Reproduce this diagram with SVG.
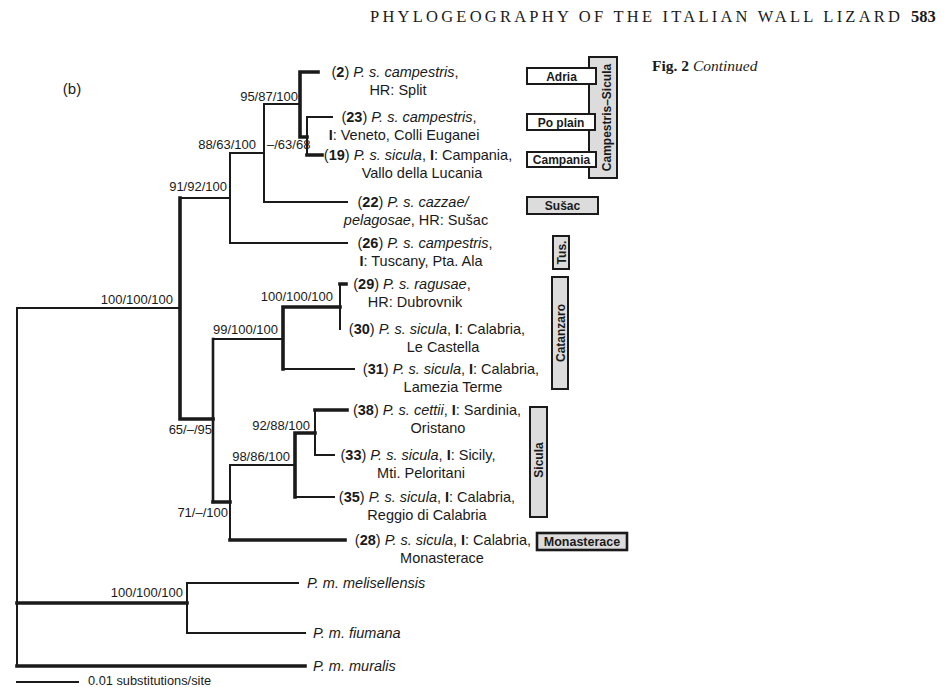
<svg xmlns="http://www.w3.org/2000/svg" width="948" height="687" viewBox="0 0 948 687">
<style>
.bg{fill:#ffffff}
.br{fill:none;stroke:#1a1a1a;stroke-linecap:square;stroke-linejoin:miter}
.th{stroke-width:2}
.tk{stroke-width:3.6}
.leaf{font-family:"Liberation Sans",Arial,sans-serif;font-size:14.5px;fill:#1a1a1a;text-anchor:middle}
.out{font-family:"Liberation Sans",Arial,sans-serif;font-size:14.5px;fill:#1a1a1a;font-style:italic}
.sup{font-family:"Liberation Sans",Arial,sans-serif;font-size:13px;fill:#1a1a1a}
.r{text-anchor:end}
.b{font-weight:bold}
.i{font-style:italic}
.box{stroke:#1a1a1a;stroke-width:2}
.gray{fill:#dcdcdc}
.white{fill:#ffffff}
.bt{font-family:"Liberation Sans",Arial,sans-serif;font-size:12px;font-weight:bold;fill:#1a1a1a;text-anchor:middle}
.hdr{font-family:"Liberation Serif","Times New Roman",serif;font-size:16.5px;fill:#1a1a1a}
.cap{font-family:"Liberation Serif","Times New Roman",serif;font-size:15.5px;fill:#1a1a1a}
</style>
<rect class="bg" x="0" y="0" width="948" height="687"/>

<g id="header">
<text class="hdr" x="370" y="22" textLength="530" lengthAdjust="spacing">PHYLOGEOGRAPHY OF THE ITALIAN WALL LIZARD</text>
<text class="hdr b" x="911" y="22">583</text>
<text class="cap" x="652" y="71"><tspan class="b">Fig. 2</tspan> <tspan class="i">Continued</tspan></text>
<text class="leaf" x="72" y="94" style="font-size:15px">(b)</text>
</g>

<g id="connectors">
<path class="br th" d="M17 308 V666 M17 308 H180"/>
<path class="br th" d="M180 198 H230 M230 153 V243 M230 153 H264 M230 243 H347"/>
<path class="br th" d="M264 104 V202 M264 104 H300 M264 202 H347"/>
<path class="br th" d="M307 117 V155 M307 117 H332"/>
<path class="br th" d="M213 339 H283 M340 284 V329 M283 369 H354"/>
<path class="br" style="stroke-width:2.6" d="M213 339 V502"/>
<path class="br th" d="M230 465 V540 M230 465 H295 M295 497 H334 M315 410 V455 M315 455 H334"/>
<path class="br th" d="M187 583 V633 M187 583 H298 M187 633 H305"/>
<path class="br th" d="M17 682 H78"/>
<path class="br tk" d="M180 198 V419 H213"/>
<path class="br tk" d="M318 72 H300 V137 H307 M307 155 H322"/>
<path class="br tk" d="M340 307 H283 V369 M340 284 H346"/>
<path class="br tk" d="M213 502 H230 M230 540 H345"/>
<path class="br tk" d="M315 433 H295 V497 M315 410 H347"/>
<path class="br tk" d="M17 603 H187 M17 666 H305"/>
</g>

<g id="support">
<text class="sup r" x="298" y="101">95/87/100</text>
<text class="sup r" x="256" y="149">88/63/100</text>
<text class="sup" x="267" y="149">–/63/68</text>
<text class="sup r" x="227" y="191">91/92/100</text>
<text class="sup r" x="173" y="304">100/100/100</text>
<text class="sup r" x="333" y="301">100/100/100</text>
<text class="sup r" x="278" y="334">99/100/100</text>
<text class="sup r" x="310" y="430">92/88/100</text>
<text class="sup r" x="212" y="434">65/–/95</text>
<text class="sup r" x="290" y="461">98/86/100</text>
<text class="sup r" x="228" y="517">71/–/100</text>
<text class="sup r" x="183" y="597">100/100/100</text>
<text class="sup" x="88" y="685" style="font-size:12.8px">0.01 substitutions/site</text>
</g>

<g id="leaf-2">
<text class="leaf" x="395" y="77">(<tspan class="b">2</tspan>) <tspan class="i">P. s. campestris</tspan>,</text>
<text class="leaf" x="398" y="95">HR: Split</text>
</g>
<g id="leaf-23">
<text class="leaf" x="409" y="122">(<tspan class="b">23</tspan>) <tspan class="i">P. s. campestris</tspan>,</text>
<text class="leaf" x="404" y="140"><tspan class="b">I</tspan>: Veneto, Colli Euganei</text>
</g>
<g id="leaf-19">
<text class="leaf" x="418" y="160">(<tspan class="b">19</tspan>) <tspan class="i">P. s. sicula</tspan>, <tspan class="b">I</tspan>: Campania,</text>
<text class="leaf" x="422" y="178">Vallo della Lucania</text>
</g>
<g id="leaf-22">
<text class="leaf" x="413" y="207">(<tspan class="b">22</tspan>) <tspan class="i">P. s. cazzae/</tspan></text>
<text class="leaf" x="416" y="225"><tspan class="i">pelagosae</tspan>, HR: Sušac</text>
</g>
<g id="leaf-26">
<text class="leaf" x="425" y="248">(<tspan class="b">26</tspan>) <tspan class="i">P. s. campestris</tspan>,</text>
<text class="leaf" x="421" y="266"><tspan class="b">I</tspan>: Tuscany, Pta. Ala</text>
</g>
<g id="leaf-29">
<text class="leaf" x="412" y="289">(<tspan class="b">29</tspan>) <tspan class="i">P. s. ragusae</tspan>,</text>
<text class="leaf" x="415" y="307">HR: Dubrovnik</text>
</g>
<g id="leaf-30">
<text class="leaf" x="437" y="334">(<tspan class="b">30</tspan>) <tspan class="i">P. s. sicula</tspan>, <tspan class="b">I</tspan>: Calabria,</text>
<text class="leaf" x="443" y="352">Le Castella</text>
</g>
<g id="leaf-31">
<text class="leaf" x="451" y="374">(<tspan class="b">31</tspan>) <tspan class="i">P. s. sicula</tspan>, <tspan class="b">I</tspan>: Calabria,</text>
<text class="leaf" x="453" y="392">Lamezia Terme</text>
</g>
<g id="leaf-38">
<text class="leaf" x="437" y="415">(<tspan class="b">38</tspan>) <tspan class="i">P. s. cettii</tspan>, <tspan class="b">I</tspan>: Sardinia,</text>
<text class="leaf" x="438" y="433">Oristano</text>
</g>
<g id="leaf-33">
<text class="leaf" x="418" y="460">(<tspan class="b">33</tspan>) <tspan class="i">P. s. sicula</tspan>, <tspan class="b">I</tspan>: Sicily,</text>
<text class="leaf" x="421" y="478">Mti. Peloritani</text>
</g>
<g id="leaf-35">
<text class="leaf" x="427" y="502">(<tspan class="b">35</tspan>) <tspan class="i">P. s. sicula</tspan>, <tspan class="b">I</tspan>: Calabria,</text>
<text class="leaf" x="427" y="520">Reggio di Calabria</text>
</g>
<g id="leaf-28">
<text class="leaf" x="443" y="545">(<tspan class="b">28</tspan>) <tspan class="i">P. s. sicula</tspan>, <tspan class="b">I</tspan>: Calabria,</text>
<text class="leaf" x="442" y="563">Monasterace</text>
</g>
<g id="leaf-melisellensis"><text class="out" x="307" y="588">P. m. melisellensis</text></g>
<g id="leaf-fiumana"><text class="out" x="313" y="638">P. m. fiumana</text></g>
<g id="leaf-muralis"><text class="out" x="313" y="671">P. m. muralis</text></g>

<g id="clade-campestris-sicula">
<rect class="box gray" x="589" y="57" width="28" height="121"/>
<text class="bt" transform="translate(611 117.5) rotate(-90)">Campestris–Sicula</text>
</g>
<g id="clade-adria">
<rect class="box white" x="527" y="68" width="69" height="16"/>
<text class="bt" x="561.5" y="80.5">Adria</text>
</g>
<g id="clade-po-plain">
<rect class="box white" x="527" y="114" width="68" height="16"/>
<text class="bt" x="561" y="126.5">Po plain</text>
</g>
<g id="clade-campania">
<rect class="box white" x="527" y="152" width="69" height="15"/>
<text class="bt" x="561.5" y="164">Campania</text>
</g>
<g id="clade-susac">
<rect class="box gray" x="527" y="197" width="71" height="17"/>
<text class="bt" x="562.5" y="210">Sušac</text>
</g>
<g id="clade-tus">
<rect class="box gray" x="553" y="236" width="16" height="33"/>
<text class="bt" transform="translate(565.5 252.5) rotate(-90)">Tus.</text>
</g>
<g id="clade-catanzaro">
<rect class="box gray" x="552" y="277" width="16" height="112"/>
<text class="bt" transform="translate(564.5 333) rotate(-90)">Catanzaro</text>
</g>
<g id="clade-sicula">
<rect class="box gray" x="530" y="407" width="17" height="110"/>
<text class="bt" transform="translate(543 460) rotate(-90)">Sicula</text>
</g>
<g id="clade-monasterace">
<rect class="box gray" x="537" y="533" width="90" height="17" style="stroke-width:2.6"/>
<text class="bt" x="582" y="546" style="font-size:12.5px">Monasterace</text>
</g>
</svg>
